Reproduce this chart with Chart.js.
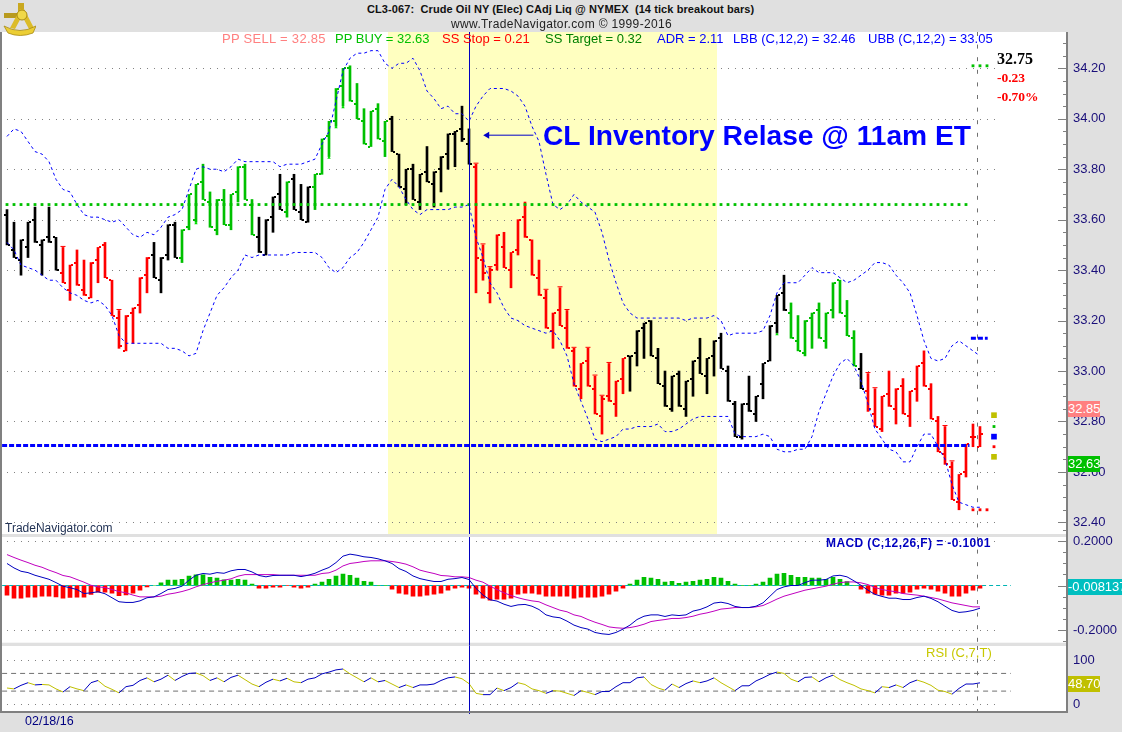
<!DOCTYPE html>
<html>
<head>
<meta charset="utf-8">
<style>
  html, body { margin: 0; padding: 0; background: #e0e0e0; overflow: hidden; }
  #page { position: relative; width: 1122px; height: 732px; background: #e0e0e0; font-family: "Liberation Sans", Arial, sans-serif; }
  canvas { position: absolute; left: 0; }
  .t { position: absolute; white-space: pre; line-height: 14px; }
  .legend { top: 31px; font-size: 13px; line-height: 15px; }
  .flag { position: absolute; left: 1068px; height: 16px; line-height: 16px; color: #fff; font-size: 13px; overflow: hidden; }
  .line { position: absolute; background: #808080; }
</style>
</head>
<body>
<div id="page">
  <canvas id="mainChart" width="1122" height="502" style="top:32px"></canvas>
  <canvas id="macdChart" width="1122" height="125" style="top:527px"></canvas>
  <canvas id="rsiChart" width="1122" height="90" style="top:637px"></canvas>

  <div class="line" style="left:0;top:32px;width:1.5px;height:680px"></div>
  <div class="line" style="left:1066px;top:32px;width:2px;height:681px"></div>
  <div class="line" style="left:0;top:711px;width:1068px;height:2px"></div>

  <svg style="position:absolute;left:3px;top:3px" width="33" height="33" viewBox="0 0 33 33">
    <rect x="15" y="0" width="6" height="9" fill="#c9a820"/>
    <rect x="1" y="10" width="15" height="5" fill="#b89a1e"/>
    <path d="M17 6 L21 6 L31 25 L26 26 L19 13 L12 26 L7 25 Z" fill="#dcbc28"/>
    <circle cx="19" cy="12" r="5" fill="#f0d848" stroke="#a88a14" stroke-width="1"/>
    <path d="M1 23 Q17 32 33 23 L30 30 Q17 35 5 30 Z" fill="#ecce34" stroke="#a88a14" stroke-width="0.8"/>
  </svg>

  <div class="t" style="left:367px;top:2px;font-size:11px;font-weight:bold;letter-spacing:0.09px;color:#111">CL3-067:  Crude Oil NY (Elec) CAdj Liq @ NYMEX  (14 tick breakout bars)</div>
  <div class="t" style="left:451px;top:17px;font-size:12px;letter-spacing:0.35px;color:#222">www.TradeNavigator.com © 1999-2016</div>

  <div class="t legend" style="left:222px;letter-spacing:0.3px;color:#ff8080">PP SELL = 32.85</div>
  <div class="t legend" style="left:335px;color:#00c000">PP BUY = 32.63</div>
  <div class="t legend" style="left:442px;color:#ff0000">SS Stop = 0.21</div>
  <div class="t legend" style="left:545px;color:#008000">SS Target = 0.32</div>
  <div class="t legend" style="left:657px;color:#0000ff">ADR = 2.11</div>
  <div class="t legend" style="left:733px;color:#0000ff">LBB (C,12,2) = 32.46</div>
  <div class="t legend" style="left:868px;color:#0000ff">UBB (C,12,2) = 33.05</div>

  <div class="t" style="left:543px;top:120px;font-size:28.2px;line-height:30px;font-weight:bold;color:#0000ff">CL Inventory Relase @ 11am ET</div>

  <div class="t" style="left:997px;top:52px;font-family:'Liberation Serif',serif;font-size:16px;font-weight:bold;color:#000">32.75</div>
  <div class="t" style="left:997px;top:71px;font-family:'Liberation Serif',serif;font-size:13.5px;font-weight:bold;color:#ff0000">-0.23</div>
  <div class="t" style="left:997px;top:90px;font-family:'Liberation Serif',serif;font-size:13.5px;font-weight:bold;color:#ff0000">-0.70%</div>

  <div class="t" style="left:5px;top:521px;font-size:12px;color:#223355">TradeNavigator.com</div>
  <div class="t" style="left:826px;top:536px;font-size:12px;font-weight:bold;letter-spacing:0.4px;color:#0000c0">MACD (C,12,26,F) = -0.1001</div>
  <div class="t" style="left:926px;top:646px;font-size:13px;color:#c8c800">RSI (C,7,T)</div>
  <div class="t" style="left:25px;top:714px;font-size:12.5px;color:#000080">02/18/16</div>

  <div class="flag" style="top:401px;width:32px;background:#ff8080">32.85</div>
  <div class="flag" style="top:456px;width:32px;background:#00c000">32.63</div>
  <div class="flag" style="top:579px;width:54px;background:#00bfc0">-0.008137</div>
  <div class="flag" style="top:676px;width:32px;background:#c0c000">48.70</div>
</div>

<script src="https://cdn.jsdelivr.net/npm/chart.js@4/dist/chart.umd.js"></script>
<script>
const opens = [
  33.62,33.48,33.44,33.49,33.60,33.50,33.53,33.53,33.39,33.32,
  33.43,33.32,33.29,33.44,33.50,33.36,33.21,33.08,33.23,33.26,
  33.38,33.46,33.36,33.46,33.58,33.45,33.57,33.60,33.75,33.67,
  33.56,33.68,33.58,33.71,33.81,33.66,33.53,33.46,33.61,33.70,
  33.63,33.76,33.63,33.59,33.73,33.78,33.93,33.99,34.13,34.20,
  34.06,33.99,33.89,34.04,33.91,34.00,33.86,33.72,33.80,33.67,
  33.79,33.74,33.80,33.86,33.94,33.96,33.90,33.81,33.44,33.31,
  33.42,33.49,33.40,33.48,33.61,33.52,33.37,33.29,33.16,33.24,
  33.17,33.08,32.93,33.04,32.93,32.82,32.90,32.87,32.97,33.06,
  33.07,33.17,33.20,33.05,32.94,32.85,32.99,32.85,32.97,33.05,
  32.98,33.06,33.13,33.00,32.87,32.74,32.87,32.83,32.95,33.04,
  33.19,33.31,33.23,33.12,33.07,33.21,33.24,33.12,33.24,33.36,
  33.22,33.13,33.01,32.92,32.83,32.77,32.91,32.85,32.94,32.82,
  32.93,33.03,32.93,32.80,32.67,32.62,32.48,32.60,32.74,32.70
];
const highs = [
  33.64,33.59,33.52,33.59,33.65,33.52,33.65,33.53,33.49,33.42,
  33.48,33.44,33.43,33.49,33.51,33.36,33.24,33.22,33.25,33.37,
  33.45,33.51,33.45,33.58,33.59,33.56,33.70,33.74,33.82,33.71,
  33.68,33.72,33.70,33.81,33.82,33.68,33.61,33.60,33.69,33.78,
  33.75,33.78,33.74,33.73,33.78,33.92,33.99,34.12,34.20,34.21,
  34.14,34.04,34.03,34.06,33.99,34.01,33.86,33.80,33.82,33.78,
  33.89,33.79,33.85,33.94,33.95,34.05,33.96,33.82,33.50,33.41,
  33.54,33.55,33.47,33.60,33.67,33.52,33.44,33.32,33.23,33.33,
  33.24,33.09,33.03,33.09,32.98,32.90,33.03,32.96,33.05,33.06,
  33.16,33.19,33.20,33.09,33.00,32.98,33.00,32.96,33.04,33.13,
  33.05,33.12,33.15,33.02,32.88,32.87,32.98,32.90,33.03,33.18,
  33.30,33.38,33.27,33.22,33.20,33.23,33.27,33.23,33.35,33.36,
  33.28,33.16,33.07,32.99,32.93,32.90,33.00,32.93,32.97,32.92,
  33.02,33.08,32.95,32.82,32.78,32.64,32.59,32.71,32.79,32.78
];
const lows = [
  33.50,33.45,33.38,33.45,33.51,33.38,33.51,33.40,33.35,33.28,
  33.34,33.30,33.29,33.35,33.37,33.22,33.09,33.08,33.11,33.23,
  33.31,33.37,33.31,33.44,33.45,33.43,33.56,33.59,33.68,33.57,
  33.54,33.58,33.56,33.67,33.68,33.54,33.47,33.46,33.55,33.64,
  33.61,33.64,33.60,33.59,33.64,33.78,33.85,33.97,34.05,34.07,
  34.00,33.90,33.89,33.92,33.85,33.87,33.73,33.66,33.68,33.64,
  33.75,33.65,33.71,33.80,33.81,33.91,33.82,33.31,33.36,33.27,
  33.40,33.41,33.33,33.46,33.53,33.38,33.30,33.17,33.09,33.18,
  33.09,32.94,32.89,32.94,32.83,32.75,32.88,32.82,32.91,32.92,
  33.02,33.05,33.06,32.95,32.86,32.84,32.86,32.82,32.90,32.99,
  32.91,32.98,33.01,32.88,32.74,32.73,32.84,32.80,32.89,33.04,
  33.15,33.24,33.13,33.08,33.06,33.09,33.13,33.09,33.21,33.23,
  33.14,33.02,32.93,32.84,32.78,32.76,32.86,32.79,32.83,32.78,
  32.88,32.94,32.81,32.68,32.63,32.49,32.45,32.58,32.70,32.70
];
const closes = [
  33.50,33.45,33.52,33.59,33.51,33.52,33.51,33.40,33.35,33.42,
  33.34,33.30,33.43,33.49,33.37,33.22,33.10,33.22,33.25,33.37,
  33.45,33.37,33.45,33.58,33.45,33.56,33.70,33.74,33.68,33.57,
  33.68,33.58,33.70,33.81,33.68,33.54,33.47,33.60,33.69,33.64,
  33.75,33.64,33.60,33.73,33.78,33.92,33.99,34.12,34.20,34.07,
  34.00,33.90,34.03,33.92,33.99,33.87,33.73,33.80,33.68,33.78,
  33.75,33.79,33.85,33.94,33.95,33.92,33.82,33.45,33.39,33.40,
  33.54,33.41,33.47,33.60,33.53,33.38,33.30,33.17,33.23,33.18,
  33.09,32.94,33.03,32.94,32.83,32.89,32.88,32.96,33.05,33.06,
  33.16,33.19,33.06,32.95,32.86,32.98,32.86,32.96,33.04,32.99,
  33.05,33.12,33.01,32.88,32.74,32.87,32.84,32.90,33.03,33.18,
  33.30,33.24,33.13,33.08,33.20,33.23,33.13,33.23,33.35,33.23,
  33.14,33.02,32.93,32.85,32.78,32.90,32.86,32.93,32.83,32.92,
  33.02,32.94,32.81,32.68,32.63,32.49,32.59,32.71,32.74,32.75
];
const upperBand = [
  33.93,33.96,33.95,33.91,33.87,33.86,33.83,33.76,33.72,33.71,
  33.66,33.62,33.61,33.61,33.60,33.59,33.60,33.57,33.54,33.53,
  33.55,33.54,33.57,33.61,33.62,33.64,33.72,33.80,33.81,33.80,
  33.80,33.79,33.81,33.84,33.83,33.83,33.83,33.83,33.83,33.81,
  33.82,33.82,33.82,33.83,33.84,33.90,33.95,34.07,34.19,34.24,
  34.26,34.26,34.27,34.27,34.22,34.20,34.22,34.22,34.24,34.19,
  34.11,34.08,34.04,34.05,34.02,34.02,33.99,34.05,34.09,34.12,
  34.12,34.12,34.11,34.09,34.05,33.97,33.91,33.78,33.66,33.64,
  33.66,33.70,33.67,33.65,33.63,33.55,33.44,33.35,33.27,33.23,
  33.21,33.21,33.21,33.21,33.21,33.21,33.21,33.20,33.21,33.21,
  33.21,33.22,33.20,33.14,33.15,33.15,33.15,33.15,33.16,33.22,
  33.31,33.35,33.35,33.35,33.38,33.41,33.39,33.39,33.39,33.37,
  33.35,33.36,33.38,33.40,33.43,33.43,33.42,33.38,33.35,33.31,
  33.22,33.12,33.05,33.04,33.05,33.10,33.12,33.10,33.08,33.06
];
const lowerBand = [
  33.51,33.48,33.42,33.41,33.40,33.38,33.36,33.36,33.33,33.31,
  33.30,33.28,33.27,33.28,33.26,33.22,33.14,33.11,33.11,33.11,
  33.11,33.11,33.11,33.09,33.09,33.08,33.06,33.07,33.16,33.23,
  33.30,33.33,33.37,33.40,33.46,33.45,33.46,33.46,33.46,33.46,
  33.46,33.47,33.47,33.47,33.47,33.45,33.41,33.39,33.41,33.45,
  33.47,33.51,33.56,33.61,33.72,33.76,33.73,33.68,33.64,33.62,
  33.64,33.64,33.64,33.64,33.65,33.65,33.66,33.53,33.45,33.35,
  33.31,33.25,33.21,33.20,33.18,33.17,33.16,33.15,33.16,33.12,
  33.06,32.95,32.88,32.81,32.73,32.72,32.73,32.74,32.77,32.77,
  32.78,32.78,32.78,32.79,32.76,32.76,32.77,32.79,32.81,32.82,
  32.82,32.82,32.82,32.82,32.75,32.74,32.74,32.74,32.75,32.74,
  32.69,32.68,32.68,32.69,32.69,32.74,32.84,32.91,32.98,33.03,
  33.05,33.02,32.96,32.87,32.77,32.73,32.69,32.68,32.64,32.64,
  32.70,32.75,32.75,32.70,32.65,32.55,32.48,32.47,32.46,32.46
];
const macdLine = [
  .099,.079,.064,.058,.046,.037,.028,.013,-.003,-.010,
  -.018,-.036,-.033,-.028,-.037,-.055,-.073,-.076,-.076,-.069,
  -.055,-.051,-.036,-.018,-.013,-.003,.024,.046,.054,.051,
  .058,.055,.066,.072,.072,.061,.045,.039,.045,.046,
  .046,.046,.040,.046,.055,.069,.081,.103,.132,.141,
  .136,.129,.126,.120,.111,.099,.076,.063,.043,.031,
  .024,.018,.018,.028,.031,.036,.027,-.013,-.043,-.064,
  -.070,-.084,-.094,-.087,-.085,-.093,-.108,-.132,-.141,-.145,
  -.160,-.178,-.189,-.196,-.211,-.217,-.220,-.211,-.196,-.178,
  -.153,-.138,-.132,-.132,-.139,-.132,-.135,-.132,-.115,-.108,
  -.096,-.079,-.075,-.081,-.094,-.099,-.099,-.093,-.078,-.048,
  -.018,-.006,0,0,.013,.024,.024,.027,.043,.046,
  .039,.021,.001,-.021,-.040,-.049,-.057,-.057,-.063,-.063,
  -.054,-.048,-.058,-.073,-.093,-.112,-.121,-.118,-.112,-.102
];
const macdSignal = [
  .139,.126,.114,.103,.091,.082,.069,.058,.045,.039,
  .027,.015,.001,-.006,-.009,-.018,-.027,-.033,-.043,-.051,
  -.051,-.051,-.048,-.039,-.034,-.027,-.018,-.006,.004,.012,
  .019,.024,.030,.042,.049,.049,.049,.049,.049,.046,
  .046,.046,.046,.046,.046,.054,.057,.069,.088,.099,
  .103,.108,.111,.111,.111,.108,.103,.096,.084,.069,
  .061,.054,.045,.043,.039,.039,.036,.024,.015,-.003,
  -.018,-.033,-.045,-.055,-.063,-.069,-.073,-.087,-.099,-.111,
  -.118,-.132,-.139,-.153,-.165,-.175,-.186,-.190,-.192,-.189,
  -.183,-.174,-.162,-.157,-.153,-.148,-.148,-.144,-.138,-.129,
  -.123,-.115,-.106,-.103,-.099,-.099,-.099,-.096,-.090,-.076,
  -.061,-.048,-.039,-.030,-.021,-.015,-.009,-.003,.006,.013,
  .016,.016,.012,.004,-.009,-.018,-.024,-.028,-.036,-.040,
  -.043,-.048,-.054,-.060,-.069,-.078,-.084,-.090,-.096,-.096
];
const macdHist = [
  -.043,-.057,-.057,-.052,-.052,-.048,-.048,-.051,-.057,-.054,
  -.052,-.052,-.040,-.030,-.030,-.034,-.046,-.042,-.034,-.021,
  -.006,0,.012,.024,.024,.028,.042,.048,.048,.037,
  .033,.025,.024,.028,.024,.006,-.012,-.012,-.007,-.007,
  -.001,-.007,-.012,-.007,.006,.015,.028,.042,.051,.046,
  .033,.019,.015,.001,.001,-.016,-.034,-.039,-.048,-.048,
  -.043,-.039,-.034,-.021,-.012,-.007,-.012,-.039,-.057,-.066,
  -.061,-.061,-.057,-.039,-.034,-.034,-.039,-.048,-.048,-.048,
  -.048,-.057,-.052,-.052,-.052,-.048,-.039,-.025,-.012,.006,
  .024,.037,.033,.028,.015,.019,.010,.015,.019,.024,
  .028,.037,.033,.019,.006,.001,.001,.006,.015,.033,
  .051,.055,.046,.037,.037,.033,.033,.028,.037,.028,
  .018,.001,-.016,-.034,-.039,-.043,-.043,-.034,-.034,-.030,
  -.016,-.012,-.016,-.025,-.034,-.048,-.048,-.034,-.021,-.012
];
const rsiValues = [
  37,35,43,49,44,45,44,35,28,40,
  35,31,49,54,41,34,26,40,43,54,
  60,51,57,66,54,63,70,71,65,54,
  60,51,61,66,56,46,40,50,57,53,
  59,51,49,57,60,69,73,78,80,69,
  60,51,60,51,54,46,38,44,38,44,
  44,46,54,60,62,58,47,25,22,22,
  37,31,38,49,45,35,31,25,31,30,
  25,20,31,27,22,29,29,40,49,49,
  60,62,45,37,32,46,38,47,53,49,
  53,60,49,40,31,42,42,53,60,68,
  73,70,57,51,61,62,51,60,66,56,
  49,43,35,31,26,40,38,44,38,49,
  55,50,43,32,29,23,36,46,46,48.7
];

// bar colours come in runs: [first bar, colour]
const colourRuns = [[0,"k"],[8,"r"],[21,"k"],[25,"g"],[36,"k"],[40,"g"],[41,"k"],[44,"g"],[55,"k"],[67,"r"],[89,"k"],[112,"g"],[122,"k"],[123,"r"]];
const sellMarks = [8,16,67,68,69,77,79,80,81,83,84,85,86,123,124,134,135];
const buyMarks = [27,46,47,48,110];

const pivotUp = 33.66;
const pivotDown = 32.705;
const projectionBars = [138,139,140];
const targetUp = 34.21;
const targetDown = 32.45;
const targetMid = 33.13;
const sideBar = 141;
const sideLevels = [32.825,32.78,32.74,32.70,32.66];

const priceLabels = [34.20,34.00,33.80,33.60,33.40,33.20,33.00,32.80,32.60,32.40];
const priceTicks = [34.30,34.25,34.20,34.15,34.10,34.05,34.00,33.95,33.90,33.85,33.80,33.75,33.70,33.65,33.60,33.55,33.50,33.45,33.40,33.35,33.30,33.25,33.20,33.15,33.10,33.05,33.00,32.95,32.90,32.85,32.80,32.75,32.70,32.65,32.60,32.55,32.50,32.45,32.40];
const macdLabels = [0.2,-0.2];
const macdTicks = [0.25,0.2,0.15,0.1,0.05,0,-0.05,-0.1,-0.15,-0.2,-0.25];
const rsiLabels = [100,0];
const rsiLevels = [70,30];

const eventBar = 66;
const cursorBar = 138.53;
const bandStart = 54.43;
const bandEnd = 101.43;
const gridEnd = 141.3;
const lineEnd = 143.4;
const arrowBars = [68.6,75.2];
const arrowPrice = 33.935;

const bars = highs.map((_, i) => i);
const palette = { k: "#000000", r: "#ff0000", g: "#00c000" };
const barColours = bars.map((i) => {
  let c = "k";
  colourRuns.forEach((r) => { if (i >= r[0]) c = r[1]; });
  return palette[c];
});

const tickCache = {};
function tickImage(colour, side) {
  const key = colour + side;
  if (!tickCache[key]) {
    const c = document.createElement("canvas");
    c.width = 10;
    c.height = 2;
    const g = c.getContext("2d");
    g.fillStyle = colour;
    g.fillRect(side < 0 ? 2 : 6, 0, 2, 2);
    tickCache[key] = c;
  }
  return tickCache[key];
}

function paneDeco(levels, tickList, majors, band) {
  return {
    id: "paneDeco",
    beforeDatasetsDraw(chart) {
      const { ctx, chartArea: a, scales: { x, y } } = chart;
      ctx.save();
      ctx.fillStyle = "#ffffff";
      ctx.fillRect(a.left, a.top, a.right - a.left, a.bottom - a.top);
      if (band) {
        ctx.fillStyle = "#ffffc0";
        ctx.fillRect(x.getPixelForValue(bandStart), a.top, x.getPixelForValue(bandEnd) - x.getPixelForValue(bandStart), a.bottom - a.top);
      }
      ctx.strokeStyle = "#808080";
      ctx.lineWidth = 1;
      ctx.setLineDash([1, 6]);
      levels.forEach((v) => {
        const py = Math.round(y.getPixelForValue(v)) + 0.5;
        ctx.beginPath();
        ctx.moveTo(x.getPixelForValue(0), py);
        ctx.lineTo(x.getPixelForValue(gridEnd), py);
        ctx.stroke();
      });
      ctx.restore();
    },
    afterDatasetsDraw(chart) {
      const { ctx, chartArea: a, scales: { x, y } } = chart;
      ctx.save();
      ctx.lineWidth = 1;
      ctx.strokeStyle = "#707070";
      ctx.setLineDash([4, 8.6]);
      const cx = Math.round(x.getPixelForValue(cursorBar)) + 0.5;
      ctx.beginPath();
      ctx.moveTo(cx, a.top);
      ctx.lineTo(cx, a.bottom + 3);
      ctx.stroke();
      ctx.setLineDash([]);
      ctx.strokeStyle = "#0000c0";
      const ex = Math.round(x.getPixelForValue(eventBar)) + 0.5;
      ctx.beginPath();
      ctx.moveTo(ex, a.top);
      ctx.lineTo(ex, a.bottom + 3);
      ctx.stroke();
      ctx.strokeStyle = "#808080";
      tickList.forEach((v) => {
        const py = Math.round(y.getPixelForValue(v)) + 0.5;
        const len = majors.includes(v) ? 9 : 4;
        ctx.beginPath();
        ctx.moveTo(a.right - len, py);
        ctx.lineTo(a.right, py);
        ctx.stroke();
      });
      ctx.restore();
    },
  };
}

function baseOptions(padTop, padBottom, yMin, yMax, tickValues, labels, labelText) {
  return {
    responsive: false,
    animation: false,
    events: [],
    layout: { autoPadding: false, padding: { top: padTop, bottom: padBottom, left: 0, right: 0 } },
    plugins: { legend: { display: false }, tooltip: { enabled: false } },
    scales: {
      x: { type: "linear", display: false, offset: false, min: -1, max: 151.43, grid: { display: false } },
      y: {
        position: "right",
        min: yMin,
        max: yMax,
        afterFit: (s) => { s.width = 55; s.paddingTop = 0; s.paddingBottom = 0; },
        afterBuildTicks: (s) => { s.ticks = tickValues.map((v) => ({ value: v })); },
        border: { display: false },
        grid: { display: false, drawTicks: false },
        ticks: {
          autoSkip: false,
          padding: 6,
          color: "#1a0f7a",
          font: { family: "'Liberation Sans', Arial", size: 13 },
          callback: (v) => (labels.includes(v) ? labelText(v) : ""),
        },
      },
    },
  };
}

function flatLine(price, from, to, style) {
  return Object.assign({ type: "line", data: [{ x: from, y: price }, { x: to, y: price }], pointRadius: 0, borderWidth: 1 }, style);
}

new Chart(document.getElementById("mainChart"), {
  type: "bar",
  plugins: [paneDeco(priceLabels, priceTicks, priceLabels, true)],
  data: {
    datasets: [
      flatLine(pivotDown, -0.7, 137.5, { order: 1, borderColor: "#0000ff", borderWidth: 3, borderDash: [5, 2] }),
      {
        type: "line", order: 1, showLine: false, pointStyle: "rect", pointRadius: 2, pointBorderWidth: 0,
        pointBackgroundColor: "#00c000",
        data: bars.slice(0, 138).map((i) => ({ x: i, y: pivotUp })),
      },
      {
        type: "line", order: 1, showLine: false, pointStyle: "rect", pointRadius: 2, pointBorderWidth: 0,
        pointBackgroundColor: "#00c000",
        data: projectionBars.map((i) => ({ x: i, y: targetUp })),
      },
      {
        type: "line", order: 1, showLine: false, pointStyle: "rect", pointRadius: 2, pointBorderWidth: 0,
        pointBackgroundColor: "#ff0000",
        data: projectionBars.map((i) => ({ x: i, y: targetDown })),
      },
      flatLine(targetMid, 137.7, 140.1, { order: 1, borderColor: "#0000ff", borderWidth: 3, borderDash: [5, 2] }),
      {
        type: "line", order: 1, showLine: false, pointStyle: "rect", pointRadius: [4, 2, 4, 2, 4], pointBorderWidth: 0,
        pointBackgroundColor: ["#c0c000", "#00c000", "#0000ff", "#ff0000", "#c0c000"],
        data: sideLevels.map((v) => ({ x: sideBar, y: v })),
      },
      {
        type: "line", order: 1, borderColor: "#0000c8", borderWidth: 1, backgroundColor: "#0000c8",
        pointStyle: "triangle", pointRotation: -90, pointRadius: [4, 0], pointBorderWidth: 0, pointBackgroundColor: "#0000c8",
        data: arrowBars.map((b) => ({ x: b, y: arrowPrice })),
      },
      {
        type: "line", order: 2, borderColor: "#0000ff", borderWidth: 1, borderDash: [3, 3], pointRadius: 0,
        data: bars.map((i) => ({ x: i, y: upperBand[i] })),
      },
      {
        type: "line", order: 2, borderColor: "#0000ff", borderWidth: 1, borderDash: [3, 3], pointRadius: 0,
        data: bars.map((i) => ({ x: i, y: lowerBand[i] })),
      },
      {
        type: "line", order: 3, showLine: false, pointStyle: "line", pointRadius: 2.5, pointBorderWidth: 1,
        pointBorderColor: "#ff0000",
        data: sellMarks.map((i) => ({ x: i, y: highs[i] + 0.004 })),
      },
      {
        type: "line", order: 3, showLine: false, pointStyle: "triangle", pointRadius: 2, pointBorderWidth: 0,
        pointBackgroundColor: "#00e000",
        data: buyMarks.map((i) => ({ x: i, y: lows[i] - 0.004 })),
      },
      {
        type: "line", order: 4, showLine: false, pointRadius: 3,
        pointStyle: (ctx) => tickImage(barColours[ctx.dataIndex], -1),
        data: bars.map((i) => ({ x: i, y: opens[i] })),
      },
      {
        type: "line", order: 4, showLine: false, pointRadius: 3,
        pointStyle: (ctx) => tickImage(barColours[ctx.dataIndex], 1),
        data: bars.map((i) => ({ x: i, y: closes[i] })),
      },
      {
        order: 5, barThickness: 2, backgroundColor: barColours,
        data: bars.map((i) => ({ x: i, y: [lows[i], highs[i]] })),
      },
    ],
  },
  options: baseOptions(0, 0, 32.354, 34.344, priceTicks, priceLabels, (v) => v.toFixed(2)),
});

new Chart(document.getElementById("macdChart"), {
  type: "bar",
  plugins: [paneDeco(macdLabels, macdTicks, [0.2, 0, -0.2], false)],
  data: {
    datasets: [
      {
        type: "line", order: 1, borderColor: "#0000c0", borderWidth: 1, pointRadius: 0,
        data: bars.map((i) => ({ x: i, y: macdLine[i] })),
      },
      {
        type: "line", order: 2, borderColor: "#c000c0", borderWidth: 1, pointRadius: 0,
        data: bars.map((i) => ({ x: i, y: macdSignal[i] })),
      },
      flatLine(0, -0.7, lineEnd, { order: 3, borderColor: "#00b4b4", borderDash: [4, 3] }),
      {
        order: 4, barThickness: 4,
        backgroundColor: macdHist.map((v) => (v < 0 ? "#ff0000" : "#00c000")),
        data: bars.map((i) => ({ x: i, y: macdHist[i] })),
      },
    ],
  },
  options: baseOptions(10, 9.3, -0.257, 0.218, macdTicks, macdLabels, (v) => v.toFixed(4)),
});

new Chart(document.getElementById("rsiChart"), {
  type: "line",
  plugins: [paneDeco(rsiLabels, [], [], false)],
  data: {
    datasets: [
      {
        order: 1, borderWidth: 1, pointRadius: 0, borderColor: "#0000c0",
        segment: { borderColor: (ctx) => (ctx.p1.parsed.y >= ctx.p0.parsed.y ? "#0000c0" : "#c0c000") },
        data: bars.map((i) => ({ x: i, y: rsiValues[i] })),
      },
      flatLine(rsiLevels[0], -0.7, lineEnd, { order: 2, borderColor: "#707070", borderDash: [5, 4] }),
      flatLine(rsiLevels[1], -0.7, lineEnd, { order: 2, borderColor: "#707070", borderDash: [5, 4] }),
    ],
  },
  options: baseOptions(9, 16, -15, 132, rsiLabels, rsiLabels, (v) => String(v)),
});
</script>
</body>
</html>
